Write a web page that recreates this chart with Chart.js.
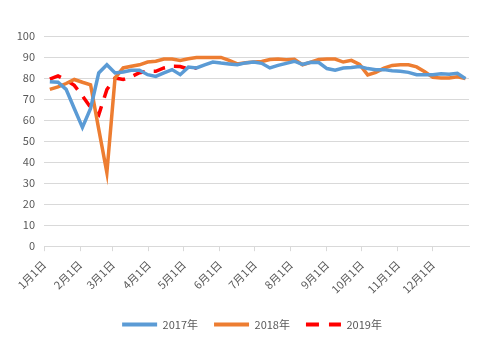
<!DOCTYPE html>
<html>
<head>
<meta charset="UTF-8">
<title>2017-2019</title>
<script src="https://cdn.jsdelivr.net/npm/chart.js@4.4.0/dist/chart.umd.min.js"></script>
<style>
body { margin: 0; background: #fff; }
</style>
</head>
<body>
<canvas id="chart" width="504" height="352"></canvas>
<script>
// weekly points, x = day of year
var weekDays = [5,12,19,26,33,40,47,54,61,68,75,82,89,96,103,110,117,124,131,138,145,152,159,166,173,180,
  187,194,201,208,215,222,229,236,243,250,257,264,271,278,285,292,299,306,313,320,327,334,341,348,355,362];

var monthStarts = [0,31,59,90,120,151,181,212,243,273,304,334];
var monthLabels = ['1月1日','2月1日','3月1日','4月1日','5月1日','6月1日','7月1日','8月1日','9月1日','10月1日','11月1日','12月1日'];

var y2017 = [78.2,78,74.6,65.5,56.5,65.5,82.4,86.3,82.4,82.9,83.7,83.7,81.6,80.8,82.4,84,81.6,85.2,84.8,86.3,87.6,87.1,86.7,86.3,87.2,87.6,
  87,84.8,86,87,88,86.5,87.5,87.4,84.5,83.7,84.8,85,85.5,84.5,84,84,83.5,83.2,82.7,81.6,81.6,81.6,82,81.8,82.3,79.7];
var y2018 = [74.6,75.8,77.4,79.3,78,76.8,55.7,35,80,84.8,85.6,86.3,87.6,88,89,89,88.4,89.2,89.8,89.8,89.8,89.8,88.4,86.7,87.3,87.6,
  87.9,88.8,89,88.7,88.9,86.3,87.5,88.8,89,89,87.6,88.4,86.5,81.5,82.7,84.7,86,86.3,86.3,85.3,83,80.3,80,80,80.6,79.7];
var y2019 = [79.5,81,79,76.5,71.5,66,62.5,74.5,80,79.3,80.6,82.5,83.2,83.2,84.8,85.6,85.5,84.2,84.8];

var font = '"Noto Sans CJK SC", "Noto Sans", sans-serif';
Chart.defaults.font.family = font;
Chart.defaults.font.size = 11;
Chart.defaults.color = '#595959';

// center the legend on the whole canvas, not on the padded box
var legendCenter = {
  id: 'legendCenter',
  afterLayout: function (chart) {
    chart.legend.left = 0;
    chart.legend.right = chart.width;
  }
};

new Chart(document.getElementById('chart'), {
  type: 'line',
  data: {
    labels: weekDays,
    datasets: [
      { label: '2017年', data: y2017, borderColor: '#5B9BD5', backgroundColor: '#5B9BD5', borderWidth: 3.5 },
      { label: '2018年', data: y2018, borderColor: '#ED7D31', backgroundColor: '#ED7D31', borderWidth: 3.5 },
      { label: '2019年', data: y2019, borderColor: '#FF0000', backgroundColor: '#FF0000', borderWidth: 3.5, borderDash: [12, 9] }
    ]
  },
  options: {
    responsive: false,
    animation: false,
    devicePixelRatio: 1,
    elements: { point: { radius: 0 }, line: { tension: 0, borderCapStyle: 'butt' } },
    layout: { padding: { left: 7, right: 35, top: 36, bottom: 12 } },
    scales: {
      x: {
        type: 'linear',
        min: 0,
        max: 365,
        afterBuildTicks: function (scale) {
          scale.ticks = monthStarts.map(function (v) { return { value: v }; });
        },
        ticks: {
          autoSkip: false,
          minRotation: 45,
          maxRotation: 45,
          padding: 7,
          callback: function (value) { return monthLabels[monthStarts.indexOf(value)]; }
        },
        grid: { drawOnChartArea: false, drawTicks: true, tickLength: 5, color: '#d9d9d9' },
        border: { color: '#d9d9d9' }
      },
      y: {
        min: 0,
        max: 100,
        afterFit: function (scale) { scale.width = 37; },
        ticks: { stepSize: 10, padding: 9 },
        grid: { color: '#d9d9d9', drawTicks: false },
        border: { display: false }
      }
    },
    plugins: {
      tooltip: { enabled: false },
      legend: {
        position: 'bottom',
        labels: {
          usePointStyle: true,
          pointStyle: 'line',
          pointStyleWidth: 35,
          padding: 16,
          color: '#595959',
          generateLabels: function (chart) {
            return chart.data.datasets.map(function (ds, i) {
              return {
                text: ds.label,
                fillStyle: ds.borderColor,
                strokeStyle: ds.borderColor,
                lineWidth: 4,
                lineDash: ds.borderDash ? [13, 10] : [],
                pointStyle: 'line',
                fontColor: '#595959',
                hidden: false,
                datasetIndex: i
              };
            });
          }
        }
      }
    }
  },
  plugins: [legendCenter]
});
</script>
</body>
</html>
